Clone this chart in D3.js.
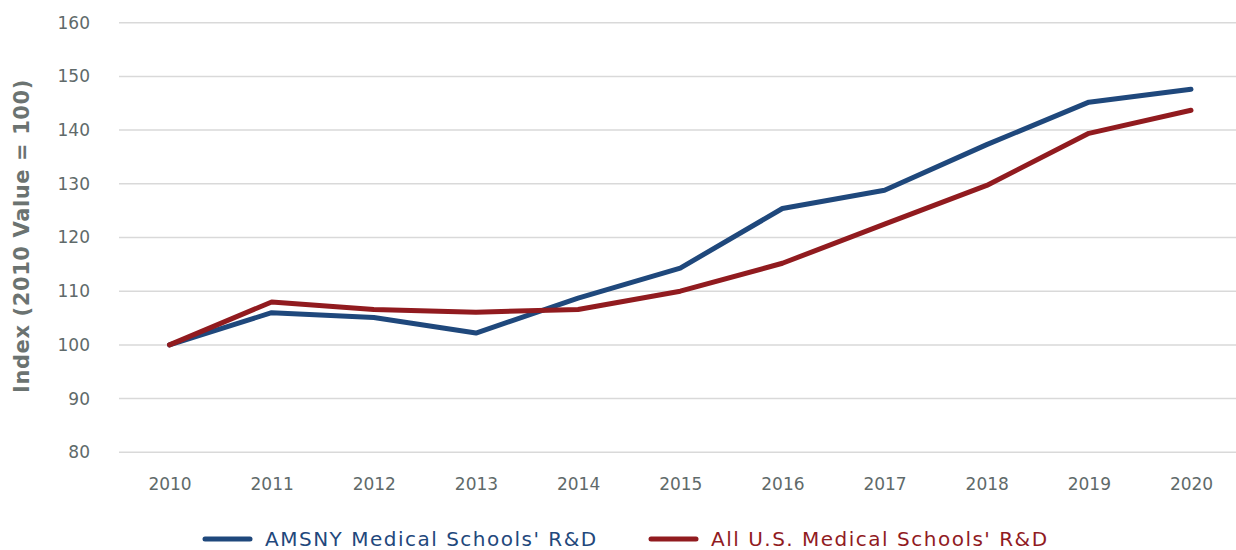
<!DOCTYPE html>
<html><head><meta charset="utf-8">
<script src="https://cdn.jsdelivr.net/npm/d3@7"></script>
<style>
body{margin:0;background:#fff;}
text{font-family:"DejaVu Sans",sans-serif;}
</style></head>
<body><svg id="c" width="1236" height="550"></svg>
<script>
const years = ["2010","2011","2012","2013","2014","2015","2016","2017","2018","2019","2020"];
const amsny = [100, 106.0, 105.1, 102.2, 108.7, 114.3, 125.4, 128.8, 137.3, 145.2, 147.6];
const allUS = [100, 108.0, 106.6, 106.1, 106.6, 110.0, 115.2, 122.5, 129.7, 139.4, 143.7];
const yTicks = [80, 90, 100, 110, 120, 130, 140, 150, 160];
const seriesNames = ["AMSNY Medical Schools' R&D", "All U.S. Medical Schools' R&D"];
const seriesColors = ["#1f487c", "#911b1f"];

const svg = d3.select("#c");
const x = d3.scalePoint().domain(years).range([169.5, 1191]);
const y = d3.scaleLinear().domain([80, 160]).range([452.3, 22.7]);
const gridLeft = 119, gridRight = 1236;

// grid
svg.append("g").selectAll("line").data(yTicks).join("line")
  .attr("x1", gridLeft).attr("x2", gridRight)
  .attr("y1", d => y(d)).attr("y2", d => y(d))
  .attr("stroke", "#d9d9d9").attr("stroke-width", 1.5);

// y axis labels
const yAxis = svg.append("g").attr("transform", "translate(90,0)")
  .call(d3.axisLeft(y).tickValues(yTicks).tickSize(0).tickPadding(0));
yAxis.select(".domain").remove();
yAxis.selectAll("text").attr("font-size", 17).attr("fill", "#5f6a6a")
  .style("font-family", '"DejaVu Sans",sans-serif');

// x axis labels
const xAxis = svg.append("g").attr("transform", "translate(0,478)")
  .call(d3.axisBottom(x).tickSize(0).tickPadding(0));
xAxis.select(".domain").remove();
xAxis.selectAll("text").attr("font-size", 17).attr("fill", "#5f6a6a")
  .style("font-family", '"DejaVu Sans",sans-serif');

// y title
svg.append("text").attr("transform", "translate(29,236) rotate(-90)")
  .attr("text-anchor", "middle").attr("font-size", 21).attr("font-weight", "bold")
  .attr("letter-spacing", 0.6)
  .attr("fill", "#6b7371").text("Index (2010 Value = 100)");

// lines
const line = d3.line().x((d, i) => x(years[i])).y(d => y(d));
[amsny, allUS].forEach((s, k) => {
  svg.append("path").datum(s).attr("d", line)
    .attr("fill", "none").attr("stroke", seriesColors[k])
    .attr("stroke-width", 5).attr("stroke-linejoin", "round").attr("stroke-linecap", "round");
});

// legend
const legX = [205, 651];
seriesNames.forEach((n, k) => {
  const g = svg.append("g").attr("transform", `translate(${legX[k]},539)`);
  g.append("line").attr("x1", 0).attr("x2", 45).attr("stroke", seriesColors[k])
    .attr("stroke-width", 5).attr("stroke-linecap", "round");
  g.append("text").attr("x", 60).attr("y", 7).attr("font-size", 20)
    .attr("letter-spacing", 1.5)
    .attr("fill", seriesColors[k]).text(n);
});
</script></body></html>
